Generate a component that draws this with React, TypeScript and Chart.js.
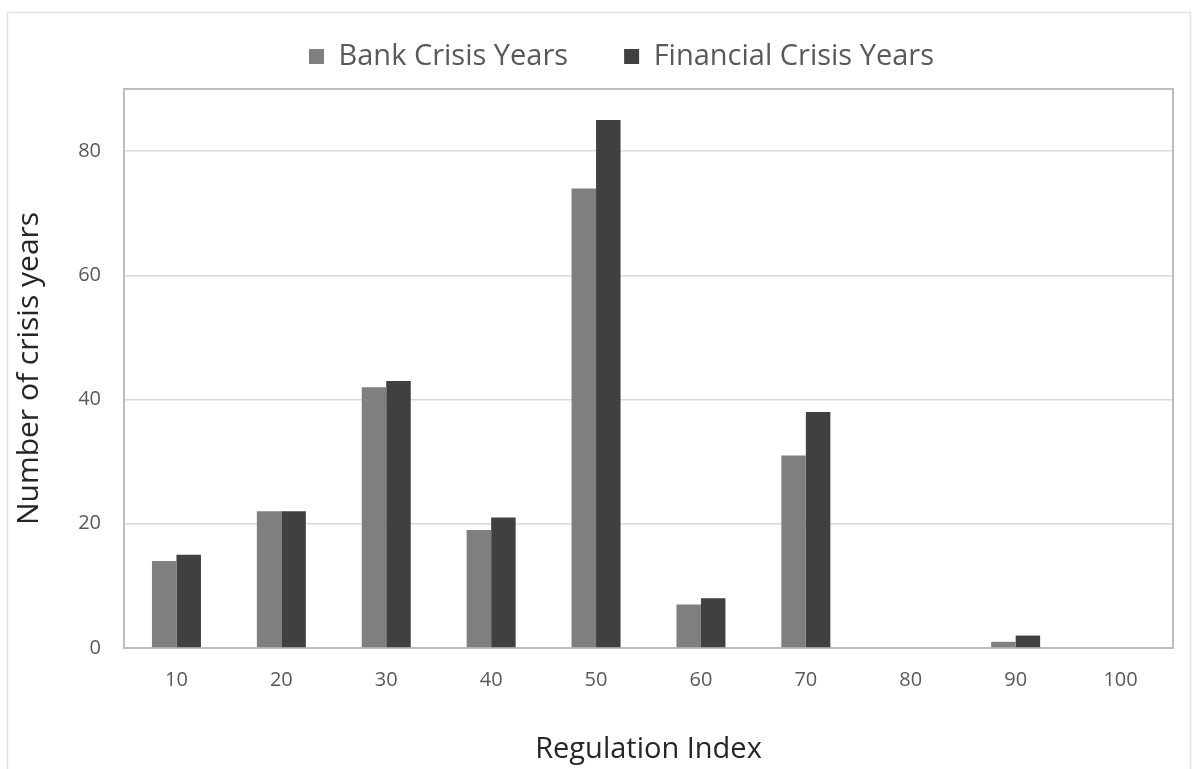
import React, { useEffect, useRef } from "react";
import { Chart, registerables } from "chart.js";

Chart.register(...registerables);

const categories = ["10", "20", "30", "40", "50", "60", "70", "80", "90", "100"];
const bankCrisisYears = [14, 22, 42, 19, 74, 7, 31, 0, 1, 0];
const financialCrisisYears = [15, 22, 43, 21, 85, 8, 38, 0, 2, 0];
const yTickValues = [0, 20, 40, 60, 80];
const yMax = 90;

const FONT = "'Open Sans', 'DejaVu Sans', sans-serif";

export default function App() {
  const ref = useRef<HTMLCanvasElement | null>(null);

  useEffect(() => {
    if (!ref.current) return;

    const framePlugin = {
      id: "frame",
      beforeDraw(chart: any) {
        const ctx = chart.ctx;
        ctx.save();
        ctx.fillStyle = "#ffffff";
        ctx.fillRect(0, 0, chart.width, chart.height);
        ctx.strokeStyle = "#e2e2e2";
        ctx.lineWidth = 1.5;
        ctx.strokeRect(7.5, 12.5, 1183, 770);
        ctx.restore();
      },
      beforeDatasetsDraw(chart: any) {
        const { ctx, chartArea } = chart;
        ctx.save();
        ctx.strokeStyle = "#bdbdbd";
        ctx.lineWidth = 2;
        ctx.strokeRect(chartArea.left, chartArea.top, chartArea.right - chartArea.left, chartArea.bottom - chartArea.top);
        ctx.restore();
      },
      beforeLayout(chart: any) {
        const lg = chart.legend;
        if (lg && !lg._patched) {
          const f = lg.fit;
          lg.fit = function () {
            f.call(this);
            this.height = 89;
          };
          lg._patched = true;
        }
      },
      afterLayout(chart: any) {
        const lg = chart.legend;
        if (lg) {
          lg.left = 70;
          lg.top = -14;
        }
      },
    };

    const chart = new Chart(ref.current, {
      type: "bar",
      data: {
        labels: categories,
        datasets: [
          {
            label: "Bank Crisis Years",
            data: bankCrisisYears,
            backgroundColor: "#7f7f7f",
            categoryPercentage: 0.467,
            barPercentage: 1,
          },
          {
            label: "Financial Crisis Years",
            data: financialCrisisYears,
            backgroundColor: "#404040",
            categoryPercentage: 0.467,
            barPercentage: 1,
          },
        ],
      },
      options: {
        responsive: false,
        animation: false,
        layout: { padding: { top: 0, left: 0, right: 30, bottom: 0 } },
        plugins: {
          legend: {
            position: "top",
            labels: {
              font: { family: FONT, size: 29 },
              color: "#595959",
              boxWidth: 15,
              boxHeight: 15,
              padding: 56,
            },
          },
          tooltip: { enabled: false },
        },
        scales: {
          x: {
            grid: { display: false, drawTicks: false },
            border: { display: false },
            ticks: {
              font: { family: FONT, size: 20 },
              color: "#595959",
              padding: 20,
            },
            title: {
              display: true,
              text: "Regulation Index",
              font: { family: FONT, size: 29 },
              color: "#262626",
              padding: { top: 0, bottom: 2 },
            },
            afterFit(scale: any) {
              scale.height = 121;
            },
          },
          y: {
            min: 0,
            max: yMax,
            grid: { color: "#d9d9d9", lineWidth: 1.5, drawTicks: false },
            border: { display: false },
            afterBuildTicks(scale: any) {
              scale.ticks = yTickValues.map((v) => ({ value: v }));
            },
            ticks: {
              font: { family: FONT, size: 20 },
              color: "#595959",
              padding: 23,
            },
            title: {
              display: true,
              text: "Number of crisis years",
              font: { family: FONT, size: 30 },
              color: "#262626",
              padding: { top: 11, bottom: 0 },
            },
            afterFit(scale: any) {
              scale.width = 124;
            },
          },
        },
      },
      plugins: [framePlugin],
    });

    return () => chart.destroy();
  }, []);

  return (
    <div style={{ position: "fixed", left: 0, top: 0, width: 1203, height: 769, background: "#fff" }}>
      <canvas ref={ref} width={1203} height={769} style={{ display: "block" }} />
    </div>
  );
}
